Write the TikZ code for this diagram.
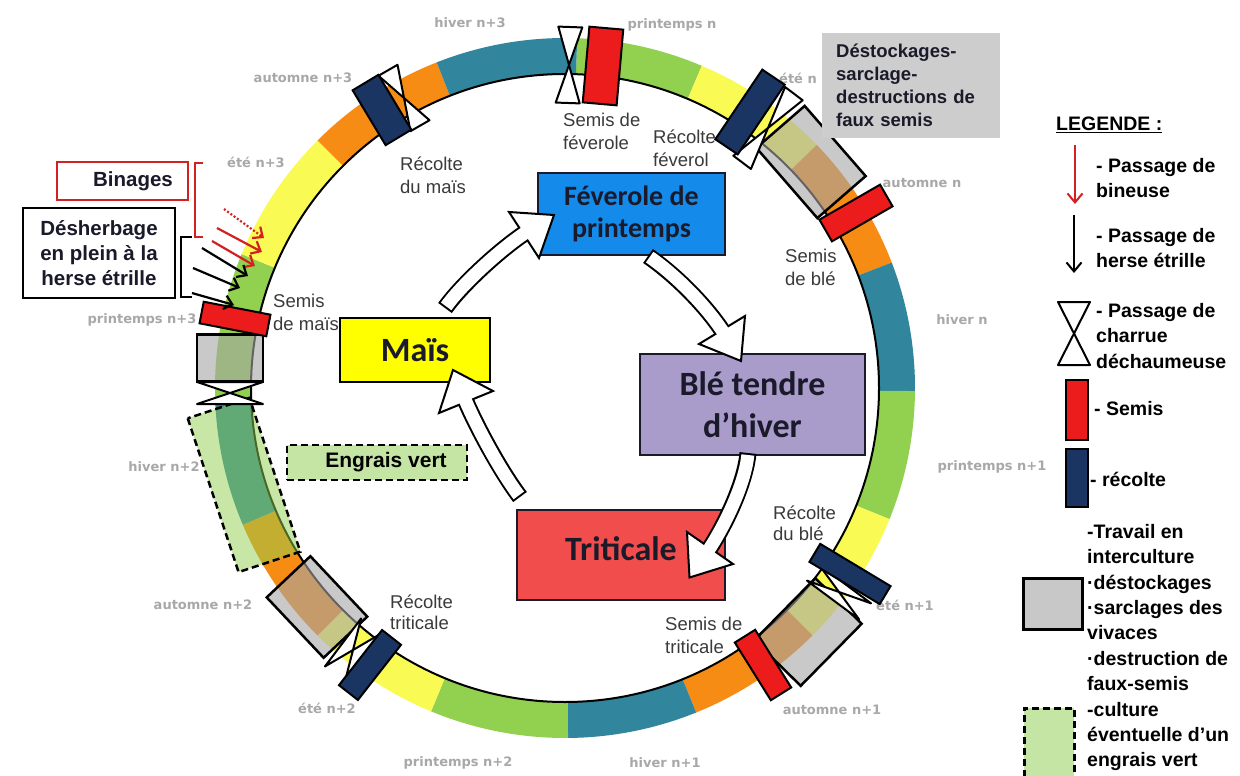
\documentclass[tikz,border=0pt]{standalone}
\usepackage{fontspec}
\setmainfont{Liberation Sans}
\newfontfamily\calfont{Carlito}
\newfontfamily\dvfont{DejaVu Sans}
\usetikzlibrary{calc,arrows.meta}

\definecolor{cgreen}{HTML}{92D050}
\definecolor{cyellow}{HTML}{FAFA55}
\definecolor{corange}{HTML}{F78C14}
\definecolor{cteal}{HTML}{31859C}
\definecolor{csemis}{HTML}{EC1C1C}
\definecolor{crecolte}{HTML}{1B3563}
\definecolor{cgrayov}{HTML}{A6A6A6}
\definecolor{cfev}{HTML}{148BEA}
\definecolor{cmais}{HTML}{FFFF00}
\definecolor{cble}{HTML}{A99CCB}
\definecolor{ctri}{HTML}{F24D4D}
\definecolor{cseason}{HTML}{A8A8A8}
\definecolor{clabel}{HTML}{3A3A3A}
\definecolor{cev}{HTML}{C5E5A5}
\definecolor{cbin}{HTML}{D42020}
\definecolor{cdark}{HTML}{1A1A2A}
\definecolor{clight}{HTML}{CDCDCD}
\definecolor{clegray}{HTML}{C8C8C8}

\tikzset{
 semisbox/.style={draw=black, line width=2pt, fill=csemis, inner sep=0pt},
 recbox/.style={draw=black, line width=2pt, fill=crecolte, inner sep=0pt},
 interbox/.style={draw=black, line width=2.5pt, fill=cgrayov, fill opacity=0.6, inner sep=0pt},
 evbox/.style={draw=black, line width=2.5pt, dash pattern=on 7pt off 4pt, fill=cgreen, fill opacity=0.5, inner sep=0pt},
 hgst/.style={draw=black, fill=white, line width=2pt, line join=round},
 season/.style={font=\dvfont\bfseries\fontsize{13}{15}\selectfont, text=cseason, inner sep=0pt},
 lab/.style={font=\fontsize{18.5}{23}\selectfont, text=clabel, align=left, inner sep=0pt, anchor=west},
 crop/.style={draw=cdark, line width=2.2pt, inner sep=0pt, text=cdark, align=center},
 legtext/.style={font=\bfseries\fontsize{19.5}{25.5}\selectfont, align=left, inner sep=0pt, anchor=west},
 blockout/.style={line width=17pt, draw=black},
 blockin/.style={line width=13pt, draw=white, shorten <=2pt},
 blockhead/.style={fill=white, draw=black, line width=2pt, line join=miter},
 annarrow/.style={line width=2.2pt, -{Straight Barb[length=8pt,width=14pt]}},
}

\newcommand\hglass[5]{\begin{scope}[shift={(#1,#2)},rotate=#3]
 \filldraw[hgst] (-#4/2,-#5/2) -- (#4/2,-#5/2) -- (-#4/2,#5/2) -- (#4/2,#5/2) -- cycle;
 \end{scope}}
\newcommand\ringseg[3]{\fill[#3] ($(C)+(-#1:350)$) arc[start angle=-#1, end angle=-#2, radius=350]
 -- ($(C)+(-#2:314)$) arc[start angle=-#2, end angle=-#1, radius=314] -- cycle;}

\begin{document}
\begin{tikzpicture}[x=1pt,y=-1pt]
\useasboundingbox (0,0) rectangle (1240,776);
\fill[white] (0,0) rectangle (1240,776);
\clip (0,0) rectangle (1240,776);
\coordinate (C) at (565,388);

% ring
\ringseg{88}{67}{cgreen}
\ringseg{67}{44}{cyellow}
\ringseg{44}{21}{corange}
\ringseg{21}{-0.5}{cteal}
\ringseg{-0.5}{-22}{cgreen}
\ringseg{-22}{-45}{cyellow}
\ringseg{-45}{-68}{corange}
\ringseg{-68}{-89.5}{cteal}
\ringseg{-89.5}{-112.5}{cgreen}
\ringseg{-112.5}{-135}{cyellow}
\ringseg{-135}{-157}{corange}
\ringseg{-157}{-178}{cteal}
\ringseg{182}{157.5}{cgreen}
\ringseg{157.5}{135}{cyellow}
\ringseg{135}{111.5}{corange}
\ringseg{111.5}{88}{cteal}
\draw[line width=2pt] (C) circle[radius=314];

% season labels
\node[season] (s01) at (470,23) {hiver n+3};
\node[season] (s02) at (672,25) {printemps n};
\node[season] (s03) at (798,78) {été n};
\node[season] (s04) at (922,183) {automne n};
\node[season] (s05) at (962,320) {hiver n};
\node[season] (s06) at (992,467) {printemps n+1};
\node[season] (s07) at (905,605) {été n+1};
\node[season] (s08) at (832,710) {automne n+1};
\node[season] (s09) at (665,763) {hiver n+1};
\node[season] (s10) at (458,763) {printemps n+2};
\node[season] (s11) at (327,708) {été n+2};
\node[season] (s12) at (203,605) {automne n+2};
\node[season] (s13) at (164,467) {hiver n+2};
\node[season] (s14) at (142,320) {printemps n+3};
\node[season] (s15) at (256,162) {été n+3};
\node[season] (s16) at (303,78) {automne n+3};

% top : charrue + semis feverole
\hglass{569}{65}{-2}{24}{76}
\node[semisbox, rotate=-5, minimum width=34pt, minimum height=76pt] (semfev) at (603,66) {};

% group B
\node[interbox, rotate=-49, minimum width=93pt, minimum height=64pt] (intB) at (811,162) {};
\hglass{768}{128}{-37}{22}{86}
\node[recbox, rotate=-34, minimum width=27pt, minimum height=84pt] (recfev) at (750,112) {};
\node[semisbox, rotate=-60, minimum width=25pt, minimum height=70pt] (semble) at (856,213) {};

% group D
\node[interbox, rotate=45.5, minimum width=87pt, minimum height=65pt] (intD) at (808,632) {};
\hglass{839}{592}{-36.6}{65}{20}
\node[recbox, rotate=59, minimum width=21pt, minimum height=82pt] (recble) at (850,574) {};
\node[semisbox, rotate=32, minimum width=24pt, minimum height=68pt] (semtri) at (763,665) {};

% group E
\node[interbox, rotate=133.3, minimum width=83pt, minimum height=60pt] (intE) at (317,607) {};
\hglass{353}{650}{53}{60}{25}
\node[recbox, rotate=-38, minimum width=24pt, minimum height=70pt] (rectri) at (370,665) {};

% engrais vert + mais
\node[evbox, rotate=108.3, minimum width=162pt, minimum height=65pt] (evring) at (244,485) {};
\node[interbox, minimum width=66pt, minimum height=47pt] (intM) at (230,358) {};
\hglass{230}{393}{0}{66}{22}
\node[semisbox, rotate=79, minimum width=22pt, minimum height=68pt] (semmais) at (235,319) {};

% recolte mais
\hglass{404}{98}{30}{22}{64}
\node[recbox, rotate=31, minimum width=30pt, minimum height=64pt] (recmais) at (382,110) {};

% small labels
\node[lab] (l1) at (563,131) {Semis de\\féverole};
\node[lab] (l2) at (653,148) {Récolte\\féverol};
\node[lab] (l3) at (400,175) {Récolte\\du maïs};
\node[lab] (l4) at (785,267) {Semis\\de blé};
\node[lab] (l5) at (273,312) {Semis\\de maïs};
\node[lab, font=\fontsize{18.5}{21}\selectfont] (l6) at (773,523) {Récolte\\du blé};
\node[lab] (l7) at (665,635) {Semis de\\triticale};
\node[lab, font=\fontsize{18.5}{21}\selectfont] (l8) at (390,612) {Récolte\\triticale};

% crop boxes
\node[crop, fill=cfev, minimum width=187pt, minimum height=82pt, font=\calfont\bfseries\fontsize{28}{32}\selectfont] (fev) at (631.5,214) {Féverole de\\printemps};
\node[crop, fill=cmais, draw=black, minimum width=150pt, minimum height=64pt, font=\calfont\bfseries\fontsize{34}{40}\selectfont] (mais) at (415,350) {Maïs};
\node[crop, fill=cble, minimum width=225pt, minimum height=101pt, font=\calfont\bfseries\fontsize{34}{42}\selectfont] (ble) at (752.5,404.5) {Blé tendre\\d’hiver};
\node[crop, fill=ctri, minimum width=208pt, minimum height=90pt, font=\calfont\bfseries\fontsize{34}{40}\selectfont] (tri) at (621,555) {Triticale\rule[-12pt]{0pt}{1pt}};

% block arrows
\coordinate (a1t) at (445,308); \coordinate (a1e) at (528,231);
\coordinate (a2t) at (648,256); \coordinate (a2e) at (725,335);
\coordinate (a3t) at (748,453); \coordinate (a3e) at (706.6,552.9);
\coordinate (a4t) at (520,497); \coordinate (a4e) at (463.7,396.4);

\draw[blockout] (a1t) .. controls (463,283) and (503,247) .. (a1e);
\filldraw[blockhead] (539,258) -- (554,215) -- (509,212) -- cycle;
\draw[blockin] (a1t) .. controls (463,283) and (503,247) .. (a1e);

\draw[blockout] (a2t) .. controls (677,276) and (709,309) .. (a2e);
\filldraw[blockhead] (745,316) -- (741,361) -- (699,344) -- cycle;
\draw[blockin] (a2t) .. controls (677,276) and (709,309) .. (a2e);

\draw[blockout] (a3t) .. controls (745,485) and (722.6,530) .. (a3e);
\filldraw[blockhead] (733,564) -- (689.5,577.5) -- (687,532) -- cycle;
\draw[blockin] (a3t) .. controls (745,485) and (722.6,530) .. (a3e);

\draw[blockout] (a4t) .. controls (499,469) and (474.3,422.4) .. (a4e);
\filldraw[blockhead] (493,391) -- (453,370) -- (439,413) -- cycle;
\draw[blockin] (a4t) .. controls (499,469) and (474.3,422.4) .. (a4e);

% engrais vert label
\node[draw=black, line width=2.5pt, dash pattern=on 7pt off 4pt, fill=cev, minimum width=180pt, minimum height=35pt, inner sep=0pt, font=\bfseries\fontsize{21}{24}\selectfont] (evlab) at (377,462.5) {\hspace*{18pt}Engrais vert};

% gray note
\node[fill=clight, anchor=north west, minimum width=178pt, minimum height=105pt, text width=150pt, inner xsep=14pt, inner ysep=0pt, align=left, font=\bfseries\fontsize{18.5}{23}\selectfont, text=cdark] (dest) at (822,33) {Déstockages-\\sarclage-\\destructions de\\faux semis};

% left annotations
\node[draw=cbin, line width=2.5pt, fill=white, minimum width=131pt, minimum height=38pt, inner sep=0pt, font=\bfseries\fontsize{20.5}{25}\selectfont, text=cdark] (bin) at (122.5,181) {\hspace*{21pt}Binages};
\node[draw=black, line width=2.5pt, fill=white, minimum width=152pt, minimum height=90pt, inner sep=0pt, align=center, font=\bfseries\fontsize{20.5}{25}\selectfont, text=cdark] (desh) at (99,253) {Désherbage\\en plein à la\\herse étrille};
\draw[cbin, line width=2.2pt] (203,163) -- (195,163) -- (195,237) -- (203,237);
\draw[black, line width=2.2pt] (192,237) -- (181,237) -- (181,297) -- (192,297);

\coordinate (p1a) at (224,209); \coordinate (p1b) at (264,238);
\coordinate (p2a) at (217,228); \coordinate (p2b) at (262,252);
\coordinate (p3a) at (212,241); \coordinate (p3b) at (255,266);
\coordinate (p4a) at (202,248); \coordinate (p4b) at (248,276);
\coordinate (p5a) at (193,268); \coordinate (p5b) at (240,288);
\coordinate (p6a) at (192,293); \coordinate (p6b) at (234,305);
\draw[annarrow, cbin, dash pattern=on 2pt off 2pt] (p1a) -- (p1b);
\draw[annarrow, cbin] (p2a) -- (p2b);
\draw[annarrow, cbin] (p3a) -- (p3b);
\draw[annarrow] (p4a) -- (p4b);
\draw[annarrow] (p5a) -- (p5b);
\draw[annarrow] (p6a) -- (p6b);

% legend
\node[legtext] (leg) at (1056,125) {\underline{LEGENDE :}};
\coordinate (la1) at (1075,145); \coordinate (la2) at (1075,204);
\coordinate (lb1) at (1074,215); \coordinate (lb2) at (1074,273);
\draw[cbin, line width=2pt, -{Straight Barb[length=9pt,width=15pt]}] (la1) -- (la2);
\draw[black, line width=2pt, -{Straight Barb[length=9pt,width=15pt]}] (lb1) -- (lb2);
\node[legtext] (lt1) at (1096,178) {- Passage de\\bineuse};
\node[legtext] (lt2) at (1096,248) {- Passage de\\herse étrille};
\hglass{1074}{333.5}{0}{32}{63}
\node[legtext] (lt3) at (1096,336) {- Passage de\\charrue\\déchaumeuse};
\node[semisbox, minimum width=22pt, minimum height=60pt] (lsem) at (1077,410) {};
\node[legtext] (lt4) at (1094,409) {- Semis};
\node[recbox, minimum width=22pt, minimum height=58pt] (lrec) at (1077,478) {};
\node[legtext] (lt5) at (1090,479) {- récolte};
\node[draw=black, line width=3pt, fill=clegray, minimum width=59pt, minimum height=51pt, inner sep=0pt] (lint) at (1052.5,603.5) {};
\node[legtext, font=\bfseries\fontsize{19.5}{25.4}\selectfont] (lt6) at (1087,647.5) {-Travail en\\interculture\\·déstockages\\·sarclages des\\vivaces\\·destruction de\\faux-semis\\-culture\\éventuelle d’un\\engrais vert};
\node[draw=black, line width=2.5pt, dash pattern=on 7pt off 4pt, fill=cev, minimum width=50pt, minimum height=80pt, inner sep=0pt, anchor=north west] (lev) at (1023,707) {};
\end{tikzpicture}
\end{document}
